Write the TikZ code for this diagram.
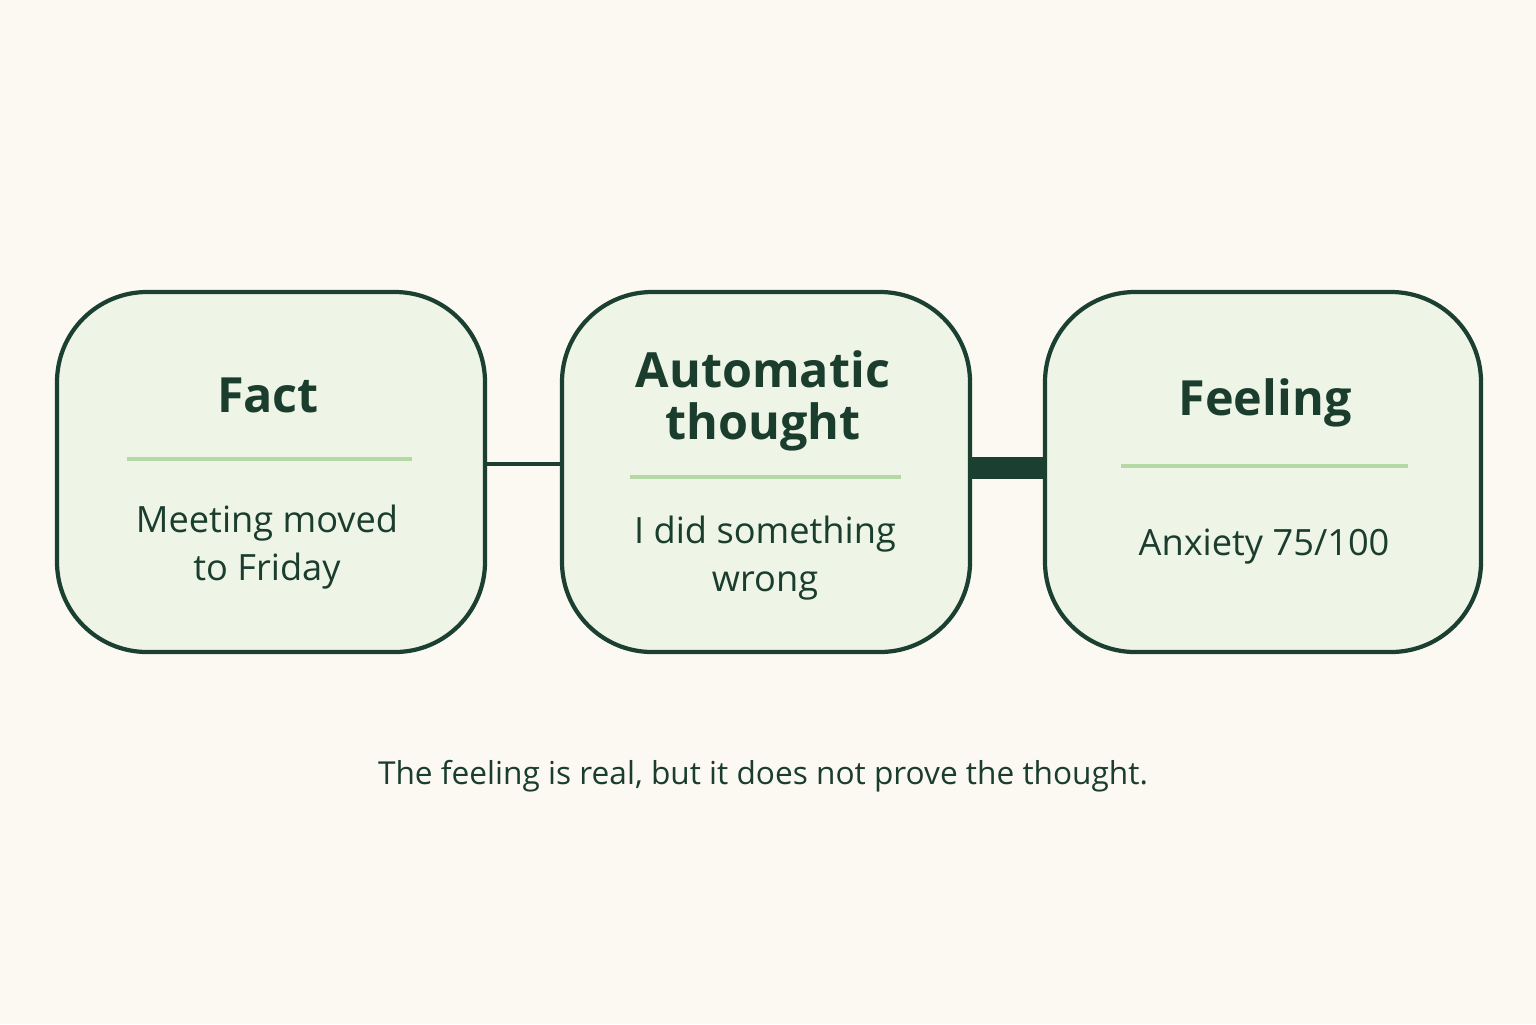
\documentclass[tikz,border=0pt]{standalone}
\usepackage{fontspec}
\setmainfont{Open Sans}
\usetikzlibrary{positioning}
\definecolor{bgcol}{HTML}{FCF9F2}
\definecolor{boxfill}{HTML}{EEF5E6}
\definecolor{boxline}{HTML}{1B3F30}
\definecolor{txtcol}{HTML}{1A3D2E}
\definecolor{rulecol}{HTML}{B5D9A5}
\tikzset{
  stage/.style={rectangle, draw=boxline, fill=boxfill, line width=1.2pt, rounded corners=0.9cm, minimum height=3.6cm},
  head/.style={text=txtcol, font=\bfseries\fontsize{13.8}{15}\selectfont, align=center},
  body/.style={text=txtcol, font=\fontsize{10.3}{13.8}\selectfont, align=center},
  divider/.style={draw=rulecol, line width=1pt}
}
\begin{document}
\begin{tikzpicture}
\fill[bgcol] (0,0) rectangle (15.36,-10.24);
\useasboundingbox (0,0) rectangle (15.36,-10.24);
% stages
\node[stage, minimum width=4.28cm] at (2.71,-4.72) (fact) {};
\node[stage, minimum width=4.08cm] at (7.66,-4.72) (auto) {};
\node[stage, minimum width=4.36cm] at (12.63,-4.72) (feel) {};
% links
\draw[boxline, line width=1pt] (fact.east) ++(0,0.08) -- ([yshift=0.08cm]auto.west);
\draw[boxline, line width=6.5pt] (auto.east) ++(0,0.04) -- ([yshift=0.04cm]feel.west);
% texts
\node[head] at (2.68,-3.95) (facthead) {Fact};
\draw[divider] (1.27,-4.59) -- (4.12,-4.59);
\node[body] at (2.67,-5.47) (factbody) {Meeting moved\\to Friday};
\node[head, font=\bfseries\fontsize{13.8}{14.8}\selectfont] at (7.63,-4.01) (autohead) {Automatic\\thought};
\draw[divider] (6.30,-4.77) -- (9.01,-4.77);
\node[body] at (7.65,-5.58) (autobody) {I did something\\wrong};
\node[head] at (12.65,-4.03) (feelhead) {Feeling};
\draw[divider] (11.21,-4.66) -- (14.08,-4.66);
\node[body] at (12.64,-5.47) (feelbody) {Anxiety 75/100};
\node[text=txtcol, font=\fontsize{9}{11}\selectfont] at (7.63,-7.76) (note) {The feeling is real, but it does not prove the thought.};
\end{tikzpicture}
\end{document}
